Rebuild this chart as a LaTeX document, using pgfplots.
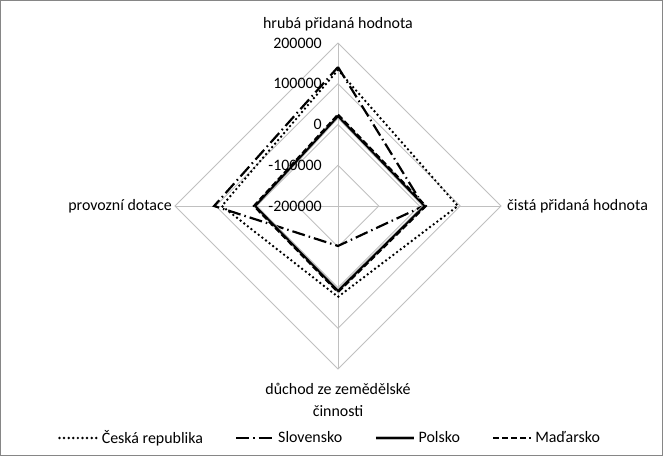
\documentclass[border=0pt]{standalone}
\usepackage{pgfplots}
\pgfplotsset{compat=1.18}
\usepackage{pgfplotstable}
\usepackage{fontspec}
\setmainfont{Carlito}

% radar values: ang = direction of the spoke, v = value
\pgfplotstableread{
ang v
90 134000
0 94000
270 23000
180 85000
90 134000
}\cz
\pgfplotstableread{
ang v
90 141000
0 10000
270 -102000
180 104000
90 141000
}\sk
\pgfplotstableread{
ang v
90 20000
0 12000
270 8000
180 3000
90 20000
}\pl
\pgfplotstableread{
ang v
90 24000
0 15000
270 11000
180 6000
90 24000
}\hu

\definecolor{gridc}{RGB}{192,192,192}
\definecolor{framec}{RGB}{134,134,134}

\begin{document}
\begin{tikzpicture}
\begin{axis}[
    scale only axis,
    width=663bp, height=456bp,
    xmin=-338, xmax=325, ymin=-250, ymax=206,
    axis lines=none,
    clip=false,
    font=\fontsize{16}{19}\selectfont,
    legend image code/.code={\draw[#1] (0bp,0bp) -- (38bp,0bp);},
    legend columns=4,
    legend style={at={(axis cs:-8,-232)}, anchor=center, draw=none, fill=none,
        font=\fontsize{16}{19}\selectfont,
        /tikz/every even column/.append style={column sep=30bp},
        /tikz/every odd column/.append style={column sep=1bp}},
]
% grid rings and spokes
\addplot[gridc, line width=0.9bp, forget plot] coordinates {(0,163) (163,0) (0,-163) (-163,0) (0,163)};
\addplot[gridc, line width=0.9bp, forget plot] coordinates {(0,122.25) (122.25,0) (0,-122.25) (-122.25,0) (0,122.25)};
\addplot[gridc, line width=0.9bp, forget plot] coordinates {(0,81.5) (81.5,0) (0,-81.5) (-81.5,0) (0,81.5)};
\addplot[gridc, line width=0.9bp, forget plot] coordinates {(0,40.75) (40.75,0) (0,-40.75) (-40.75,0) (0,40.75)};
\addplot[gridc, line width=0.9bp, forget plot] coordinates {(0,-163) (0,163)};
\addplot[gridc, line width=0.9bp, forget plot] coordinates {(-163,0) (163,0)};

% series
\addplot[black, line width=2.7bp, line cap=round, dash pattern=on 0bp off 4.6bp]
    table[x expr={cos(\thisrow{ang})*(\thisrow{v}/400000+0.5)*163},
          y expr={sin(\thisrow{ang})*(\thisrow{v}/400000+0.5)*163}] {\cz};
\addlegendentry{Česká republika}
\addplot[black, line width=2.2bp, dash pattern=on 13bp off 4bp on 1.5bp off 4bp]
    table[x expr={cos(\thisrow{ang})*(\thisrow{v}/400000+0.5)*163},
          y expr={sin(\thisrow{ang})*(\thisrow{v}/400000+0.5)*163}] {\sk};
\addlegendentry{Slovensko}
\addplot[black, line width=1.8bp, preaction={draw, gray!55, line width=3.4bp}]
    table[x expr={cos(\thisrow{ang})*(\thisrow{v}/400000+0.5)*163},
          y expr={sin(\thisrow{ang})*(\thisrow{v}/400000+0.5)*163}] {\pl};
\addlegendentry{Polsko}
\addplot[black, line width=2.4bp, dash pattern=on 6bp off 3bp]
    table[x expr={cos(\thisrow{ang})*(\thisrow{v}/400000+0.5)*163},
          y expr={sin(\thisrow{ang})*(\thisrow{v}/400000+0.5)*163}] {\hu};
\addlegendentry{Maďarsko}

% value labels on the top spoke
\node[anchor=east, inner sep=0pt, fill=white] at (axis cs:-16,163) {200000};
\node[anchor=east, inner sep=0pt] at (axis cs:-16,122.25) {100000};
\node[anchor=east, inner sep=0pt] at (axis cs:-16,81.5) {0};
\node[anchor=east, inner sep=0pt] at (axis cs:-16,40.75) {-100000};
\node[anchor=east, inner sep=0pt] at (axis cs:-16,0) {-200000};

% spoke labels
\node[anchor=base, inner sep=0pt] at (axis cs:0,177) {hrubá přidaná hodnota};
\node[anchor=base west, inner sep=0pt] at (axis cs:169,-5) {čistá přidaná hodnota};
\node[anchor=base east, inner sep=0pt] at (axis cs:-166,-5) {provozní dotace};
\node[anchor=base, inner sep=0pt] at (axis cs:0,-189) {důchod ze zemědělské};
\node[anchor=base, inner sep=0pt] at (axis cs:0,-211) {činnosti};

% chart frame
\draw[framec, line width=1bp] (axis cs:-337.5,205.5) rectangle (axis cs:324.5,-249.5);
\end{axis}
\end{tikzpicture}
\end{document}
